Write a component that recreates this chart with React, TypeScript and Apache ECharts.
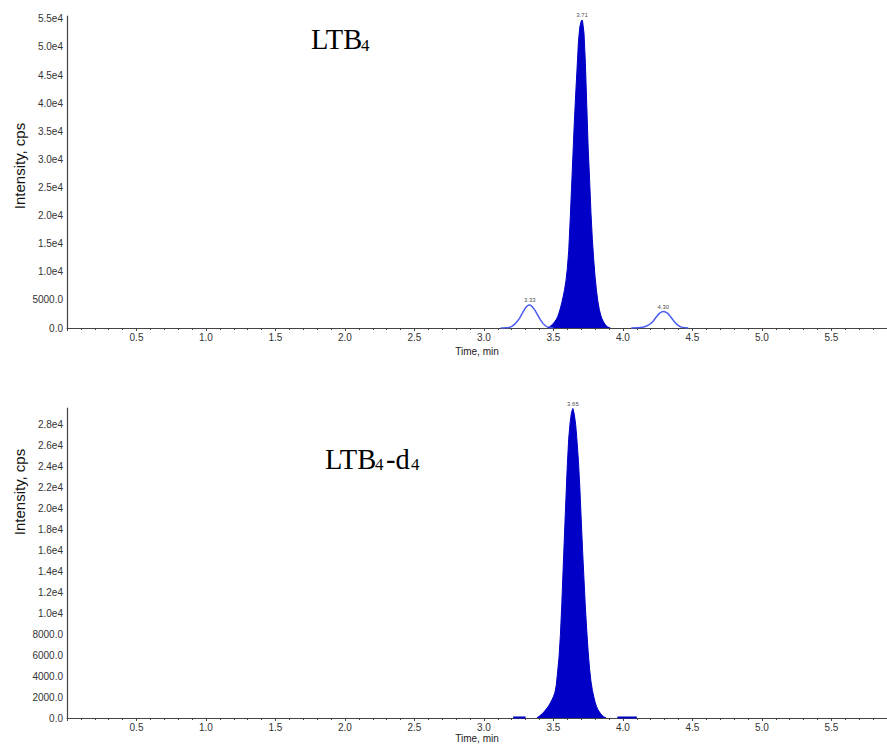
import React, { useEffect, useRef } from "react";
import * as echarts from "echarts";

// LTB4 (top panel) — main peak, filled
const ltb4Main: [number, number][] = [
  [3.46, 0], [3.47, 150], [3.48, 350], [3.49, 600], [3.5, 850], [3.51, 1150], [3.52, 1500],
  [3.53, 2000], [3.54, 2700], [3.55, 3500], [3.56, 4500], [3.57, 5600], [3.58, 6800],
  [3.59, 8400], [3.6, 10600], [3.61, 13800], [3.62, 19000], [3.63, 24800], [3.64, 30600],
  [3.65, 36500], [3.66, 41600], [3.67, 46200], [3.68, 51000], [3.69, 53600], [3.7, 54600],
  [3.706, 54800], [3.71, 54500], [3.72, 52400], [3.73, 47000], [3.74, 39500], [3.75, 32000],
  [3.76, 26500], [3.77, 20500], [3.78, 15800], [3.79, 12100], [3.8, 9000], [3.81, 6600],
  [3.82, 4700], [3.83, 3300], [3.84, 2300], [3.85, 1600], [3.86, 1100], [3.87, 700],
  [3.88, 400], [3.89, 200], [3.9, 80], [3.91, 0],
];
// LTB4 — minor peaks, outline only
const ltb4Minor1: [number, number][] = [
  [3.12, 0], [3.15, 20], [3.18, 100], [3.2, 300], [3.22, 650], [3.24, 1200], [3.26, 1900],
  [3.28, 2800], [3.3, 3600], [3.32, 4050], [3.33, 4100], [3.34, 3950], [3.36, 3400],
  [3.38, 2600], [3.4, 1700], [3.42, 950], [3.44, 450], [3.46, 150], [3.48, 30], [3.5, 0],
];
const ltb4Minor2: [number, number][] = [
  [4.06, 0], [4.1, 30], [4.14, 120], [4.17, 350], [4.2, 800], [4.22, 1300], [4.24, 1950],
  [4.26, 2550], [4.28, 2880], [4.29, 2920], [4.3, 2900], [4.32, 2650], [4.34, 2100],
  [4.36, 1450], [4.38, 850], [4.4, 420], [4.42, 160], [4.45, 30], [4.47, 0],
];
// LTB4-d4 (bottom panel)
const ltb4d4Main: [number, number][] = [
  [3.38, 0], [3.39, 100], [3.4, 200], [3.41, 300], [3.42, 420], [3.43, 560], [3.44, 720],
  [3.45, 880], [3.46, 1050], [3.47, 1250], [3.48, 1500], [3.49, 1750], [3.5, 2050],
  [3.51, 2400], [3.52, 3100], [3.53, 4400], [3.54, 5800], [3.55, 7900], [3.56, 10800],
  [3.57, 14300], [3.58, 17700], [3.59, 21000], [3.6, 24200], [3.61, 26700], [3.62, 28200],
  [3.63, 29200], [3.64, 29550], [3.65, 29000], [3.66, 28000], [3.67, 26400], [3.68, 24500],
  [3.69, 22000], [3.7, 18900], [3.71, 15900], [3.72, 13200], [3.73, 10500], [3.74, 8300],
  [3.75, 6300], [3.76, 4700], [3.77, 3500], [3.78, 2650], [3.79, 2050], [3.8, 1500],
  [3.81, 1100], [3.82, 800], [3.83, 600], [3.84, 400], [3.85, 250], [3.86, 150],
  [3.87, 50], [3.88, 0],
];
const ltb4d4Blip1: [number, number][] = [[3.21, 50], [3.3, 50]];
const ltb4d4Blip2: [number, number][] = [[3.96, 50], [4.1, 50]];

const topPeakLabels = [
  { t: 3.706, v: 54800, text: "3.71" },
  { t: 3.33, v: 4100, text: "3.33" },
  { t: 4.29, v: 2920, text: "4.30" },
];
const bottomPeakLabels = [{ t: 3.64, v: 29550, text: "3.65" }];

const xMin = 0;
const xMax = 5.9;
const xInterval = 0.5;
const topYMax = 55500;
const topYInterval = 5000;
const bottomYMax = 29600;
const bottomYInterval = 2000;

const darkBlue = "#0000c6";
const lightBlue = "#4a5cf2";
const axisColor = "#444";

export default function App() {
  const ref = useRef<HTMLDivElement>(null);
  useEffect(() => {
    const chart = echarts.init(ref.current!, null, { renderer: "svg" });
    const fmtY = (v: number) =>
      v >= 10000 ? (v / 10000).toFixed(1) + "e4" : v.toFixed(1);

    const xAxisBase = (gridIndex: number, nameGap: number) => ({
      type: "value" as const,
      gridIndex,
      min: xMin,
      max: xMax,
      interval: xInterval,
      name: "Time, min",
      nameLocation: "middle" as const,
      nameGap,
      nameTextStyle: { fontFamily: "Liberation Sans", fontSize: 10, color: "#222" },
      axisLine: { show: true, lineStyle: { color: axisColor, width: 1.2 } },
      axisTick: { show: true, length: 3, lineStyle: { color: axisColor } },
      minorTick: { show: true, splitNumber: 5, length: 2, lineStyle: { color: axisColor } },
      splitLine: { show: false },
      minorSplitLine: { show: false },
      axisLabel: {
        showMinLabel: false,
        showMaxLabel: false,
        margin: 4,
        fontFamily: "Liberation Sans",
        fontSize: 10,
        color: "#333",
        formatter: (v: number) => v.toFixed(1),
      },
    });
    const yAxisBase = (gridIndex: number, max: number, interval: number) => ({
      type: "value" as const,
      gridIndex,
      min: 0,
      max,
      interval,
      axisLine: { show: true, lineStyle: { color: axisColor, width: 1.2 } },
      axisTick: { show: false },
      splitLine: { show: false },
      axisLabel: {
        showMaxLabel: false,
        margin: 4,
        fontFamily: "Liberation Sans",
        fontSize: 10,
        color: "#333",
        formatter: fmtY,
      },
    });

    const labelSeries = (
      xAxisIndex: number,
      items: { t: number; v: number; text: string }[]
    ) => ({
      type: "scatter" as const,
      xAxisIndex,
      yAxisIndex: xAxisIndex,
      symbolSize: 0,
      silent: true,
      z: 5,
      data: items.map((p) => ({ value: [p.t, p.v], name: p.text })),
      label: {
        show: true,
        position: "top" as const,
        distance: 2,
        formatter: "{b}",
        fontFamily: "Liberation Sans",
        fontSize: 6,
        color: "#111",
      },
    });

    const serifText = (x: number, y: number, text: string, size: number) => ({
      type: "text" as const,
      x,
      y,
      style: {
        text,
        fontFamily: "Liberation Serif",
        fontSize: size,
        fill: "#000",
        align: "left",
        verticalAlign: "middle",
        textAlign: "left",
        textVerticalAlign: "middle",
      },
    });
    const yName = (x: number, y: number) => ({
      type: "text" as const,
      x,
      y,
      rotation: Math.PI / 2,
      style: {
        text: "Intensity, cps",
        fontFamily: "Liberation Sans",
        fontSize: 15,
        fill: "#111",
        align: "center",
        verticalAlign: "middle",
        textAlign: "center",
        textVerticalAlign: "middle",
      },
    });

    chart.setOption({
      animation: false,
      backgroundColor: "#fff",
      grid: [
        { left: 67, top: 16, width: 820, height: 312 },
        { left: 67, top: 408, width: 820, height: 310 },
      ],
      xAxis: [xAxisBase(0, 18), xAxisBase(1, 15)],
      yAxis: [yAxisBase(0, topYMax, topYInterval), yAxisBase(1, bottomYMax, bottomYInterval)],
      series: [
        {
          type: "line",
          xAxisIndex: 0,
          yAxisIndex: 0,
          data: ltb4Minor1,
          symbol: "none",
          smooth: 0.3,
          lineStyle: { color: lightBlue, width: 1.5 },
        },
        {
          type: "line",
          xAxisIndex: 0,
          yAxisIndex: 0,
          data: ltb4Minor2,
          symbol: "none",
          smooth: 0.3,
          lineStyle: { color: lightBlue, width: 1.5 },
        },
        {
          type: "line",
          xAxisIndex: 0,
          yAxisIndex: 0,
          data: ltb4Main,
          symbol: "none",
          lineStyle: { color: darkBlue, width: 1 },
          areaStyle: { color: darkBlue, opacity: 1 },
          z: 3,
        },
        labelSeries(0, topPeakLabels),
        {
          type: "line",
          xAxisIndex: 1,
          yAxisIndex: 1,
          data: ltb4d4Main,
          symbol: "none",
          lineStyle: { color: darkBlue, width: 1 },
          areaStyle: { color: darkBlue, opacity: 1 },
          z: 3,
        },
        {
          type: "line",
          xAxisIndex: 1,
          yAxisIndex: 1,
          data: ltb4d4Blip1,
          symbol: "none",
          lineStyle: { color: darkBlue, width: 2 },
          z: 3,
        },
        {
          type: "line",
          xAxisIndex: 1,
          yAxisIndex: 1,
          data: ltb4d4Blip2,
          symbol: "none",
          lineStyle: { color: darkBlue, width: 2 },
          z: 3,
        },
        labelSeries(1, bottomPeakLabels),
      ],
      graphic: [
        serifText(311, 39, "LTB", 28.5),
        serifText(361, 45, "4", 17),
        serifText(325, 459, "LTB", 28.5),
        serifText(375, 464, "4", 17),
        serifText(386, 459, "-d", 28.5),
        serifText(411, 464, "4", 17),
        yName(19, 166),
        yName(19, 492),
      ],
    });
    return () => chart.dispose();
  }, []);
  return (
    <div
      ref={ref}
      style={{ position: "fixed", left: 0, top: 0, width: 887, height: 744, background: "#fff" }}
    />
  );
}
